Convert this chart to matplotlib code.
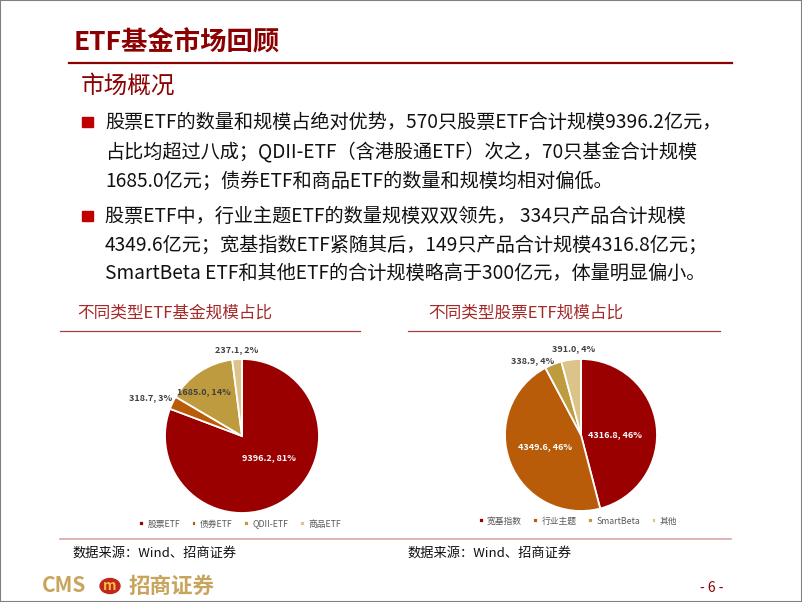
import matplotlib
matplotlib.use("Agg")
import numpy as np
import matplotlib.pyplot as plt
from matplotlib.patches import Rectangle, Circle
from matplotlib.lines import Line2D

plt.rcParams['font.family'] = ['Noto Sans CJK SC', 'DejaVu Sans']

# data
fund_types = ['股票ETF', '债券ETF', 'QDII-ETF', '商品ETF']
fund_sizes = [9396.2, 318.7, 1685.0, 237.1]
fund_pcts = ['81%', '3%', '14%', '2%']
stock_types = ['宽基指数', '行业主题', 'SmartBeta', '其他']
stock_sizes = [4316.8, 4349.6, 338.9, 391.0]
stock_pcts = ['46%', '46%', '4%', '4%']

W, H = 802, 602
RED = '#8B0000'


def fx(x):
    return x / W


def fy(y):
    return 1 - y / H


fig = plt.figure(figsize=(W / 100, H / 100), dpi=100)

# header
fig.text(fx(74), fy(43), 'ETF基金市场回顾', fontsize=19, fontweight='bold', color=RED, va='center')
fig.add_artist(Line2D([fx(69), fx(732)], [fy(63), fy(63)], color=RED, lw=1.6))
fig.text(fx(81), fy(86), '市场概况', fontsize=17, color=RED, va='center')

bullets = [
    ['股票ETF的数量和规模占绝对优势，570只股票ETF合计规模9396.2亿元，',
     '占比均超过八成；QDII-ETF（含港股通ETF）次之，70只基金合计规模',
     '1685.0亿元；债券ETF和商品ETF的数量和规模均相对偏低。'],
    ['股票ETF中，行业主题ETF的数量规模双双领先， 334只产品合计规模',
     '4349.6亿元；宽基指数ETF紧随其后，149只产品合计规模4316.8亿元；',
     'SmartBeta ETF和其他ETF的合计规模略高于300亿元，体量明显偏小。'],
]
line_y = [[122, 152, 181], [216, 245, 273]]
for lines, ys in zip(bullets, line_y):
    fig.add_artist(Rectangle((fx(82), fy(ys[0] + 5)), 11 / W, 10 / H, color='#C00000',
                             transform=fig.transFigure))
    for txt, y in zip(lines, ys):
        fig.text(fx(105), fy(y), txt, fontsize=13.8, color='#111111', va='center')

# chart titles
fig.text(fx(77), fy(313), '不同类型ETF基金规模占比', fontsize=12, color='#A52A2A', va='center')
fig.text(fx(428), fy(313), '不同类型股票ETF规模占比', fontsize=12, color='#A52A2A', va='center')
fig.add_artist(Line2D([fx(60), fx(360)], [fy(331), fy(331)], color='#A04040', lw=0.9))
fig.add_artist(Line2D([fx(408), fx(720)], [fy(331), fy(331)], color='#A04040', lw=0.9))
fig.add_artist(Line2D([fx(60), fx(731)], [fy(539), fy(539)], color='#D9A6A6', lw=1.2))


def draw_pie(cx, cy, r, sizes, pcts, names, colors, lab_r, lab_shift, lab_col, leg_xy):
    ax = fig.add_axes([fx(cx - r), fy(cy + r), 2 * r / W, 2 * r / H])
    wedges, _ = ax.pie(sizes, colors=colors, startangle=90, counterclock=False,
                       wedgeprops=dict(edgecolor='white', linewidth=1.3))
    ax.set_xlim(-1, 1)
    ax.set_ylim(-1, 1)
    ax.axis('off')
    for w, v, p, rr, sh, c in zip(wedges, sizes, pcts, lab_r, lab_shift, lab_col):
        mid = np.deg2rad((w.theta1 + w.theta2) / 2 + sh)
        ax.text(rr * np.cos(mid), rr * np.sin(mid), f'{v:.1f}, {p}', fontsize=6.5,
                fontweight='bold', color=c, ha='center', va='center', clip_on=False)
    ax.legend(wedges, names, loc='center', bbox_to_anchor=(fx(leg_xy[0]), fy(leg_xy[1])),
              bbox_transform=fig.transFigure, ncol=4, frameon=False, fontsize=6.3,
              handlelength=0.55, handleheight=0.55, handletextpad=0.4, columnspacing=1.3,
              labelcolor='#595959')


pie_colors = ['#9B0000', '#B85C0A', '#BF9B40', '#DCC38A']
draw_pie(242, 436, 77, fund_sizes, fund_pcts, fund_types, pie_colors,
         [0.45, 1.29, 0.76, 1.12], [16, 3, 7, 0],
         ['white', '#404040', '#404040', '#404040'], (240, 524))
draw_pie(581, 435, 76, stock_sizes, stock_pcts, stock_types, pie_colors,
         [0.45, 0.5, 1.16, 1.14], [-7, -4, 11.5, -2.5],
         ['white', 'white', '#404040', '#404040'], (578, 521))

# sources
fig.text(fx(72), fy(553), '数据来源：Wind、招商证券', fontsize=9.5, color='#111111', va='center')
fig.text(fx(407), fy(553), '数据来源：Wind、招商证券', fontsize=9.5, color='#111111', va='center')

# footer
GOLD = '#C9A45C'
fig.text(fx(42), fy(586), 'CMS', fontsize=15, fontweight='bold', color=GOLD, va='center')
fig.add_artist(Circle((fx(110), fy(586)), 10 / W, color='#C0281E', transform=fig.transFigure))
fig.text(fx(110), fy(586), 'm', fontsize=10, fontweight='bold', fontstyle='italic',
         color='#F5C040', ha='center', va='center')
fig.text(fx(129), fy(586), '招商证券', fontsize=15.5, fontweight='bold', color=GOLD, va='center')
fig.text(fx(712), fy(588), '- 6 -', fontsize=10, color=RED, ha='center', va='center')

fig.add_artist(Rectangle((0, 0), 1, 1, fill=False, edgecolor='#808080', lw=1.5,
                         transform=fig.transFigure))

fig.savefig('out.png', dpi=100)
